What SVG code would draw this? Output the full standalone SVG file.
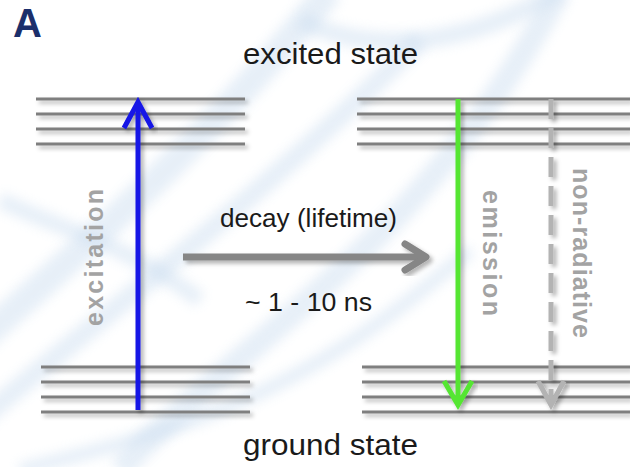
<svg xmlns="http://www.w3.org/2000/svg" width="630" height="467" viewBox="0 0 630 467">
  <defs>
    <filter id="soft" x="-50%" y="-50%" width="200%" height="200%">
      <feGaussianBlur stdDeviation="6"/>
    </filter>
    <filter id="shadow" x="-20%" y="-20%" width="140%" height="140%">
      <feDropShadow dx="3" dy="3" stdDeviation="2" flood-color="#000" flood-opacity="0.3"/>
    </filter>
    <style>
      .level { stroke: #7f7f7f; stroke-width: 3; fill: none; }
      .lbl { font-family: "Liberation Sans", Arial, sans-serif; fill: #1a1a1a; }
      .vlbl { font-family: "Liberation Sans", Arial, sans-serif; font-weight: bold; fill: #a3a3a3; font-size: 25px; }
      .arrow { fill: none; stroke-width: 5; }
      .bg { fill: none; stroke: #c9dcef; opacity: 0.45; filter: url(#soft); }
    </style>
  </defs>

  <rect width="630" height="467" fill="#ffffff"/>

  <!-- faint helix watermark -->
  <g id="watermark">
    <path class="bg" d="M -20 340 C 80 250, 200 150, 330 -10" stroke-width="28"/>
    <path class="bg" d="M -20 420 C 120 300, 260 200, 420 40" stroke-width="20"/>
    <path class="bg" d="M 120 470 C 250 330, 420 250, 560 -10" stroke-width="24"/>
    <path class="bg" d="M 300 20 C 380 60, 480 40, 560 -10" stroke-width="18"/>
    <path class="bg" d="M 0 200 C 60 230, 120 240, 200 300" stroke-width="16"/>
    <path class="bg" d="M 20 470 C 180 430, 300 400, 470 250" stroke-width="14"/>
  </g>

  <!-- panel letter -->
  <text id="panel-label" x="13" y="37" font-family="Liberation Sans, Arial, sans-serif" font-weight="bold" font-size="40" fill="#1b2f6b">A</text>

  <!-- energy levels -->
  <g id="excited-left" filter="url(#shadow)">
    <line class="level" x1="36" y1="99" x2="245" y2="99"/>
    <line class="level" x1="36" y1="114" x2="245" y2="114"/>
    <line class="level" x1="36" y1="129" x2="245" y2="129"/>
    <line class="level" x1="36" y1="144" x2="245" y2="144"/>
  </g>
  <g id="excited-right" filter="url(#shadow)">
    <line class="level" x1="357" y1="99" x2="630" y2="99"/>
    <line class="level" x1="357" y1="114" x2="630" y2="114"/>
    <line class="level" x1="357" y1="129" x2="630" y2="129"/>
    <line class="level" x1="357" y1="144" x2="630" y2="144"/>
  </g>
  <g id="ground-left" filter="url(#shadow)">
    <line class="level" x1="41" y1="367" x2="250" y2="367"/>
    <line class="level" x1="41" y1="382" x2="250" y2="382"/>
    <line class="level" x1="41" y1="397" x2="250" y2="397"/>
    <line class="level" x1="41" y1="412" x2="250" y2="412"/>
  </g>
  <g id="ground-right" filter="url(#shadow)">
    <line class="level" x1="362" y1="367" x2="630" y2="367"/>
    <line class="level" x1="362" y1="382" x2="630" y2="382"/>
    <line class="level" x1="362" y1="397" x2="630" y2="397"/>
    <line class="level" x1="362" y1="412" x2="630" y2="412"/>
  </g>

  <!-- state labels -->
  <text id="excited-label" class="lbl" x="243" y="64" font-size="30" textLength="175" lengthAdjust="spacingAndGlyphs">excited state</text>
  <text id="ground-label" class="lbl" x="243" y="455" font-size="30" textLength="175" lengthAdjust="spacingAndGlyphs">ground state</text>

  <!-- transitions -->
  <g id="connectors">
    <g id="excitation-arrow" filter="url(#shadow)">
      <line class="arrow" x1="138" y1="410" x2="138" y2="102" stroke="#1414e6"/>
      <polyline class="arrow" points="124,128 138,102 152,128" stroke="#1414e6" stroke-linejoin="miter"/>
    </g>
    <g id="emission-arrow" filter="url(#shadow)">
      <line class="arrow" x1="458" y1="99" x2="458" y2="404" stroke="#55e633"/>
      <polyline class="arrow" points="444,381 458,405 472,381" stroke="#55e633"/>
    </g>
    <g id="nonradiative-arrow" filter="url(#shadow)">
      <line class="arrow" x1="551" y1="99" x2="551" y2="404" stroke="#b3b3b3" stroke-dasharray="20 9"/>
      <polyline class="arrow" points="538,381 551,405 564,381" stroke="#b3b3b3"/>
    </g>
    <g id="decay-arrow" filter="url(#shadow)">
      <line x1="183" y1="257" x2="424" y2="257" stroke="#868686" stroke-width="7"/>
      <polyline points="405,244 426,257 405,270" fill="none" stroke="#868686" stroke-width="7" stroke-linecap="round" stroke-linejoin="round"/>
    </g>
  </g>

  <!-- transition labels -->
  <text id="decay-label" class="lbl" x="220" y="227" font-size="25" textLength="177" lengthAdjust="spacingAndGlyphs">decay (lifetime)</text>
  <text id="time-label" class="lbl" x="245" y="311" font-size="25" textLength="127" lengthAdjust="spacingAndGlyphs">~ 1 - 10 ns</text>
  <text id="excitation-label" class="vlbl" transform="translate(103 326) rotate(-90)" textLength="137" lengthAdjust="spacing">excitation</text>
  <text id="emission-label" class="vlbl" transform="translate(483 190) rotate(90)" textLength="126" lengthAdjust="spacing">emission</text>
  <text id="nonradiative-label" class="vlbl" transform="translate(573 168) rotate(90)" textLength="170" lengthAdjust="spacing">non-radiative</text>
</svg>
